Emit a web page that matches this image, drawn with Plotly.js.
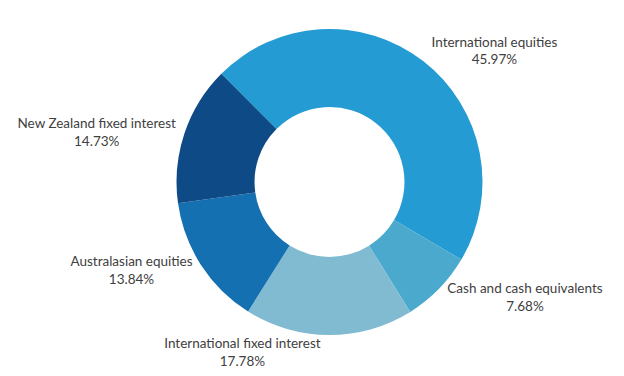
<!DOCTYPE html>
<html>
<head>
<meta charset="utf-8">
<script src="https://cdn.plot.ly/plotly-3.0.1.min.js"></script>
<style>html,body{margin:0;padding:0;background:#fff;}#chart{width:624px;height:376px;}</style>
</head>
<body>
<div id="chart"></div>
<script>
var categories = ["International equities", "Cash and cash equivalents", "International fixed interest", "Australasian equities", "New Zealand fixed interest"];
var values = [45.97, 7.68, 17.78, 13.84, 14.73];
var colors = ["#249bd2", "#4ba9cd", "#80bbd2", "#1470b0", "#0e4a86"];

var trace = {
  type: "pie",
  labels: categories,
  values: values,
  hole: 0.49,
  sort: false,
  direction: "clockwise",
  rotation: -45,
  marker: {colors: colors, line: {width: 0}},
  textposition: "outside",
  texttemplate: "%{label}<br>%{percent:.2%}",
  textfont: {family: "Lato, sans-serif", size: 13.5, color: "#404040"},
  hoverinfo: "none",
  showlegend: false,
  automargin: false,
  domain: {x: [0.2829, 0.7732], y: [0.109, 0.923]}
};

Plotly.newPlot("chart", [trace], {
  width: 624, height: 376,
  margin: {l: 0, r: 0, t: 0, b: 0},
  paper_bgcolor: "#fff",
  showlegend: false
}, {staticPlot: true});
</script>
</body>
</html>
